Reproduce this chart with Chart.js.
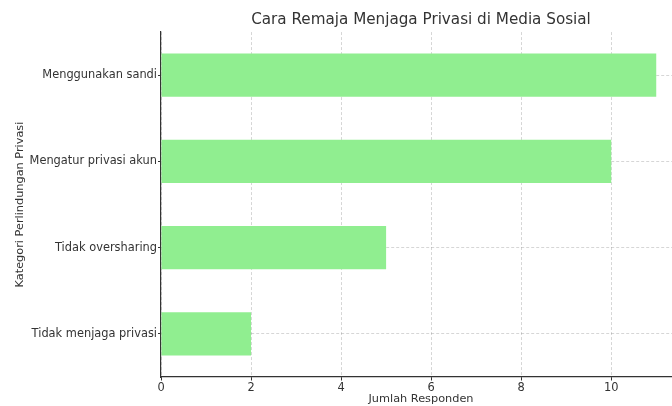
<!DOCTYPE html>
<html>
<head>
<meta charset="utf-8">
<script src="https://cdn.jsdelivr.net/npm/chart.js@4"></script>
<style>
    html, body { margin: 0; padding: 0; background: #fff; overflow: hidden; }
    #wrap { width: 690px; height: 406px; }
</style>
</head>
<body>
<div id="wrap"><canvas id="privasi-chart"></canvas></div>
<script>
// ─── DATA ────────────────────────────────────────────────────────────────────

const categories = ["Menggunakan sandi", "Mengatur privasi akun", "Tidak oversharing", "Tidak menjaga privasi"];
const responden  = [11, 10, 5, 2];
const x_ticks    = [0, 2, 4, 6, 8, 10];

const chart_title = "Cara Remaja Menjaga Privasi di Media Sosial";
const x_title     = "Jumlah Responden";
const y_title     = "Kategori Perlindungan Privasi";

// ─── CHART ───────────────────────────────────────────────────────────────────

const textColor = "#333";
const gridColor = "rgba(0,0,0,0.16)";
const fontFam   = "'DejaVu Sans', sans-serif";

new Chart(document.getElementById("privasi-chart"), {
    type: "bar",
    data: {
        labels: categories,
        datasets: [{
            data: responden,
            backgroundColor: "#90ee90",
            barPercentage: 0.5,
            categoryPercentage: 1
        }]
    },
    options: {
        indexAxis: "y",
        responsive: true,
        maintainAspectRatio: false,
        animation: false,
        layout: { padding: { right: 9 } },
        plugins: {
            legend: { display: false },
            tooltip: { enabled: false },
            title: {
                display: true,
                text: chart_title,
                fullSize: false,
                color: textColor,
                font: { family: fontFam, size: 15.2, weight: "normal" },
                padding: { top: 11, bottom: 2.8 }
            }
        },
        scales: {
            x: {
                type: "linear",
                min: 0,
                max: 11.55,
                z: 1,
                afterBuildTicks: axis => { axis.ticks = x_ticks.map(v => ({ value: v })); },
                afterFit: axis => { axis.height = 29; },
                ticks: { color: textColor, font: { family: fontFam, size: 11.4 }, padding: 1, maxRotation: 0 },
                grid: { color: gridColor, tickColor: textColor, tickBorderDash: [], tickLength: 3.5 },
                border: { display: true, color: textColor, width: 1.2, dash: [3, 2] },
                title: {
                    display: true, text: x_title, color: textColor,
                    font: { family: fontFam, size: 11.3 }, padding: { top: 0, bottom: 0 }
                }
            },
            y: {
                z: 1,
                afterFit: axis => { axis.width = 161; },
                ticks: { color: textColor, font: { family: fontFam, size: 11.4 }, padding: 1 },
                grid: { offset: false, color: gridColor, tickColor: textColor, tickBorderDash: [], tickLength: 3 },
                border: { display: true, color: textColor, width: 1.2, dash: [3, 2] },
                title: {
                    display: true, text: y_title, color: textColor,
                    font: { family: fontFam, size: 11.3 }, padding: { top: 13, bottom: 0 }
                }
            }
        }
    }
});
</script>
</body>
</html>
